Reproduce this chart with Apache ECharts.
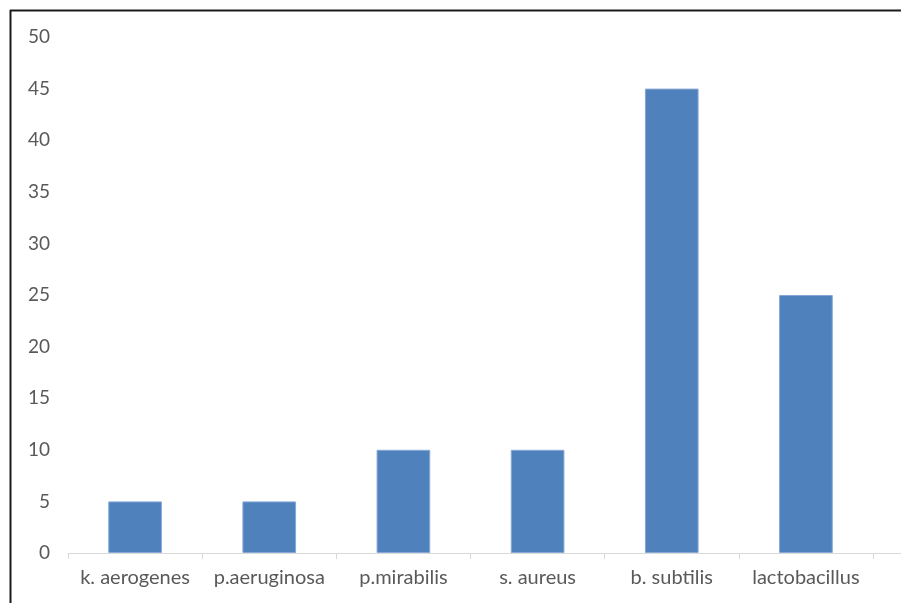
<!DOCTYPE html>
<html>
<head>
<meta charset="utf-8">
<script src="https://cdn.jsdelivr.net/npm/echarts@6/dist/echarts.min.js"></script>
<style>
  html, body { margin: 0; padding: 0; background: #ffffff; }
  #chart { width: 901px; height: 603px; }
</style>
</head>
<body>
<div id="chart"></div>
<script>
// Bacterial strains on the category axis
const categories = ['k. aerogenes', 'p.aeruginosa', 'p.mirabilis', 's. aureus', 'b. subtilis', 'lactobacillus'];
// Measured value for each strain
const values = [5, 5, 10, 10, 45, 25];
// Value axis range
const yMin = 0;
const yMax = 50;
const yStep = 5;

const chart = echarts.init(document.getElementById('chart'), null, { renderer: 'canvas' });

const labelFont = 'Lato, "Open Sans", sans-serif';

chart.setOption({
  backgroundColor: '#ffffff',
  animation: false,
  grid: { left: 68, right: 28, top: 37, bottom: 50, containLabel: false },
  xAxis: {
    type: 'category',
    data: categories,
    axisLine: { show: true, lineStyle: { color: '#d9d9d9', width: 1 } },
    axisTick: { show: true, length: 6, lineStyle: { color: '#d9d9d9' } },
    axisLabel: { color: '#595959', fontSize: 20, fontFamily: labelFont, margin: 15, interval: 0 },
    splitLine: { show: false }
  },
  yAxis: {
    type: 'value',
    min: yMin,
    max: yMax,
    interval: yStep,
    axisLine: { show: false },
    axisTick: { show: false },
    splitLine: { show: false },
    axisLabel: { color: '#595959', fontSize: 19, fontFamily: labelFont, margin: 18 }
  },
  series: [{
    type: 'bar',
    data: values,
    barWidth: '40%',
    itemStyle: { color: '#4f81bd', borderColor: '#86a8d6', borderWidth: 1 }
  }],
  graphic: [
    // axis baseline continues to the right edge
    { type: 'line', shape: { x1: 873, y1: 553.5, x2: 901, y2: 553.5 }, style: { stroke: '#d9d9d9', lineWidth: 1 } },
    // frame edges (top and left)
    { type: 'line', shape: { x1: 10, y1: 10.5, x2: 901, y2: 10.5 }, style: { stroke: '#1a1a1a', lineWidth: 2 } },
    { type: 'line', shape: { x1: 10.5, y1: 10, x2: 10.5, y2: 603 }, style: { stroke: '#1a1a1a', lineWidth: 2 } }
  ]
});
</script>
</body>
</html>
